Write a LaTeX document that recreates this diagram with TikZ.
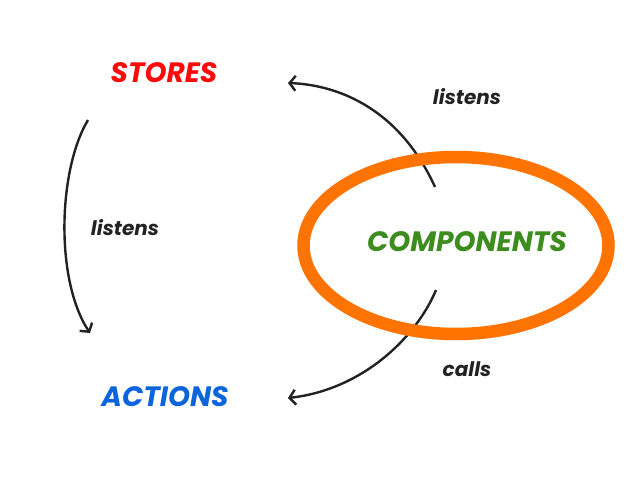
\documentclass[tikz,border=0pt]{standalone}
\usepackage{fontspec}
\setmainfont{Poppins}
\usetikzlibrary{arrows.meta, positioning, shapes.geometric}
\definecolor{storered}{HTML}{FF0A0A}
\definecolor{actionblue}{HTML}{0A64DC}
\definecolor{compgreen}{HTML}{3C8C1E}
\definecolor{ringorange}{HTML}{FF7300}
\definecolor{inkgray}{HTML}{222222}

\begin{document}
\begin{tikzpicture}[x=1pt, y=-1pt,
    title/.style={font=\fontsize{28}{32}\selectfont\bfseries\itshape},
    verb/.style={font=\fontsize{20}{24}\selectfont\bfseries\itshape, text=inkgray},
    flow/.style={inkgray, line width=2.4pt, -{Straight Barb[length=6pt, width=15pt]}}]
  \useasboundingbox (0,0) rectangle (640,480);

  % the three parts
  \node[title, text=storered] (stores) at (164,73) {STORES};
  \node[title, text=actionblue] (actions) at (165,397) {ACTIONS};
  \node[title, text=compgreen] (comp) at (467,242) {COMPONENTS};

  % arrow ends
  \coordinate (top-out) at (435,187);
  \coordinate (top-in) at (288,83);
  \coordinate (left-out) at (88,120);
  \coordinate (left-in) at (90,333);
  \coordinate (low-out) at (436,290);
  \coordinate (low-in) at (288,398);

  \draw[flow] (top-out) .. controls (400,110) and (340,85) .. (top-in);
  \draw[flow] (left-out) .. controls (58,170) and (55,280) .. (left-in);
  \draw[flow] (low-out) .. controls (415,340) and (360,390) .. (low-in);

  \node[verb] (listens-a) at (467,97) {listens};
  \node[verb] (listens-b) at (125,228) {listens};
  \node[verb] (calls) at (467,369) {calls};

  % ring round the components
  \node[ellipse, draw=ringorange, line width=12.5pt,
    minimum width=305, minimum height=177] (ring) at (456,245.5) {};
\end{tikzpicture}
\end{document}
